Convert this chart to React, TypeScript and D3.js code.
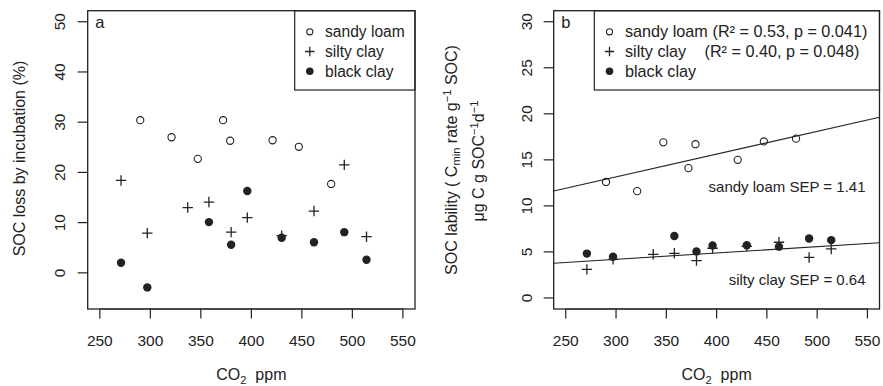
import React from "react";
import * as d3 from "d3";

// ---------- data ----------
const xTicks = [250, 300, 350, 400, 450, 500, 550];
const yTicksA = [0, 10, 20, 30, 40, 50];
const yTicksB = [0, 5, 10, 15, 20, 25, 30];

const co2Sandy = [290, 321, 347, 372, 379, 421, 447, 479];
const lossSandy = [30.4, 27.0, 22.7, 30.4, 26.3, 26.4, 25.1, 17.7];
const labSandy = [12.6, 11.6, 16.9, 14.1, 16.7, 15.0, 17.0, 17.3];

const co2Silty = [271, 297, 337, 358, 380, 396, 430, 462, 492, 514];
const lossSilty = [18.4, 7.9, 13.0, 14.1, 8.1, 11.0, 7.4, 12.3, 21.5, 7.2];
const labSilty = [3.1, 4.2, 4.74, 4.85, 4.05, 5.4, 5.6, 6.05, 4.4, 5.32];

const co2Black = [271, 297, 358, 380, 396, 430, 462, 492, 514];
const lossBlack = [2.0, -2.9, 10.1, 5.6, 16.3, 7.0, 6.1, 8.1, 2.6];
const labBlack = [4.82, 4.47, 6.73, 5.05, 5.7, 5.72, 5.57, 6.45, 6.28];

// regression lines in panel b: [intercept, slope]
const fitSandy = [5.75, 0.02469];
const fitSilty = [2.13, 0.00689];

const legendNames = ["sandy loam", "silty clay", "black clay"];
const legendStats = ["(R² = 0.53, p = 0.041)", "(R² = 0.40, p = 0.048)", ""];
const sepLabels = ["sandy loam SEP = 1.41", "silty clay SEP = 0.64"];

const FONT = '"Liberation Sans", Arial, Helvetica, sans-serif';
const INK = "#222";
const FS = 15.5;

type Sym = "circle" | "plus" | "dot";

function Marker({ x, y, kind, s = 1 }: { x: number; y: number; kind: Sym; s?: number }) {
  if (kind === "circle")
    return <circle cx={x} cy={y} r={3.6 * s} fill="none" stroke={INK} strokeWidth={1.1} />;
  if (kind === "dot") return <circle cx={x} cy={y} r={4.2 * s} fill={INK} />;
  const h = 5.2 * s;
  return (
    <path d={`M${x - h},${y}H${x + h}M${x},${y - h}V${y + h}`} stroke={INK} strokeWidth={1.3} fill="none" />
  );
}

function Panel({
  x0, x1, y0, y1, yDomain, yTicks, ylabX, letter,
  series, legendX0, symX, textX, statX, legFS, children,
}: any) {
  const xs = d3.scaleLinear().domain([238, 562]).range([x0, x1]);
  const ys = d3.scaleLinear().domain(yDomain).range([y1, y0]);
  const rowsY = [31.8, 51.5, 71.2];
  const kinds: Sym[] = ["circle", "plus", "dot"];
  return (
    <g>
      {children && children(xs, ys)}
      {series.map((ser: any, si: number) =>
        ser.x.map((xv: number, i: number) => (
          <Marker key={`${si}-${i}`} x={xs(xv)} y={ys(ser.y[i])} kind={ser.kind} />
        ))
      )}
      {/* legend */}
      <rect x={legendX0} y={y0} width={x1 - legendX0} height={90 - y0} fill="white" stroke={INK} strokeWidth={1.2} />
      {legendNames.map((n, i) => (
        <g key={n}>
          <Marker x={symX} y={rowsY[i]} kind={kinds[i]} s={i === 0 ? 0.85 : 0.9} />
          <text x={textX} y={rowsY[i] + 5.6} fontSize={legFS} fill={INK} fontFamily={FONT}>{n}</text>
          {statX && legendStats[i] && (
            <text x={statX[i]} y={rowsY[i] + 5.6} fontSize={legFS} fill={INK} fontFamily={FONT}>{legendStats[i]}</text>
          )}
        </g>
      ))}
      {/* box */}
      <rect x={x0} y={y0} width={x1 - x0} height={y1 - y0} fill="none" stroke={INK} strokeWidth={1.3} />
      <text x={x0 + 7.5} y={28.3} fontSize={FS + 1} fill={INK} fontFamily={FONT}>{letter}</text>
      {/* x axis */}
      <line x1={xs(xTicks[0])} x2={xs(xTicks[xTicks.length - 1])} y1={y1} y2={y1} stroke={INK} strokeWidth={1.2} />
      {xTicks.map((t) => (
        <g key={t}>
          <line x1={xs(t)} x2={xs(t)} y1={y1} y2={y1 + 9.5} stroke={INK} strokeWidth={1.2} />
          <text x={xs(t)} y={345.5} textAnchor="middle" fontSize={FS} fill={INK} fontFamily={FONT}>{t}</text>
        </g>
      ))}
      {/* y axis */}
      {yTicks.map((t: number) => (
        <g key={t}>
          <line x1={x0 - 10} x2={x0} y1={ys(t)} y2={ys(t)} stroke={INK} strokeWidth={1.2} />
          <text transform={`translate(${ylabX},${ys(t)}) rotate(-90)`} textAnchor="middle" fontSize={FS} fill={INK} fontFamily={FONT}>{t}</text>
        </g>
      ))}
      <text x={(x0 + x1) / 2} y={380} textAnchor="middle" fontSize={FS + 0.5} fill={INK} fontFamily={FONT}>
        CO<tspan fontSize={FS * 0.72} dy={3.5}>2</tspan><tspan dy={-3.5}>{"\u00a0\u00a0ppm"}</tspan>
      </text>
    </g>
  );
}

export default function App() {
  const seriesA = [
    { x: co2Sandy, y: lossSandy, kind: "circle" },
    { x: co2Silty, y: lossSilty, kind: "plus" },
    { x: co2Black, y: lossBlack, kind: "dot" },
  ];
  const seriesB = [
    { x: co2Sandy, y: labSandy, kind: "circle" },
    { x: co2Silty, y: labSilty, kind: "plus" },
    { x: co2Black, y: labBlack, kind: "dot" },
  ];
  const sub = FS * 0.72;
  const sepBase = [191.7, 285];
  return (
    <svg width={883} height={386} style={{ position: "absolute", left: 0, top: 0, background: "white" }}>
      <Panel
        x0={87.7} x1={415} y0={10.7} y1={309} yDomain={[-7.2, 52.2]} yTicks={yTicksA} ylabX={65}
        letter="a" series={seriesA} legendX0={294.7} symX={309.8} textX={325} legFS={15.6}
      />
      <text transform={`translate(25,158.5) rotate(-90)`} textAnchor="middle" fontSize={FS + 0.5} fill={INK} fontFamily={FONT}>
        SOC loss by incubation (%)
      </text>

      <Panel
        x0={553.7} x1={879.5} y0={10.7} y1={309} yDomain={[-1.2, 31.2]} yTicks={yTicksB} ylabX={531.5}
        letter="b" series={seriesB} legendX0={594.3} symX={609.5} textX={625} statX={[712.5, 704.5]} legFS={16.2}
      >
        {(xs: any, ys: any) => (
          <g>
            {[fitSandy, fitSilty].map((f, i) => {
              const [a, b] = f;
              const line = d3.line<number>().x((v) => xs(v)).y((v) => ys(a + b * v));
              return <path key={i} d={line(xs.domain()) || ""} stroke={INK} strokeWidth={1.1} fill="none" />;
            })}
            {sepLabels.map((s, i) => (
              <text key={s} x={865.5} y={sepBase[i]} textAnchor="end" fontSize={15} fill={INK} fontFamily={FONT}>{s}</text>
            ))}
          </g>
        )}
      </Panel>
      <text transform={`translate(456.7,160) rotate(-90)`} textAnchor="middle" fontSize={FS + 0.5} fill={INK} fontFamily={FONT}>
        SOC lability  ( C<tspan fontSize={sub} dy={3}>min</tspan><tspan dy={-3}> rate g</tspan>
        <tspan fontSize={sub} dy={-6}>−1</tspan><tspan dy={6}> SOC)</tspan>
      </text>
      <text transform={`translate(484.3,161) rotate(-90)`} textAnchor="middle" fontSize={FS + 0.5} fill={INK} fontFamily={FONT}>
        μg C g SOC<tspan fontSize={sub} dy={-6}>−1</tspan><tspan dy={6}>d</tspan><tspan fontSize={sub} dy={-6}>−1</tspan>
      </text>
    </svg>
  );
}
